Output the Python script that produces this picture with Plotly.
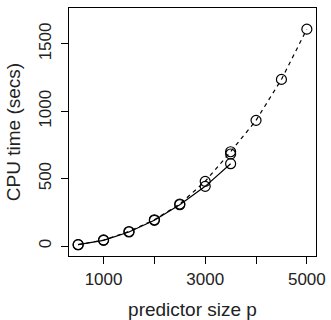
import plotly.graph_objects as go

p_solid = [500, 1000, 1500, 2000, 2500, 3000, 3500]
t_solid = [10, 42, 104, 191, 307, 443, 611]

p_dash = [500, 1000, 1500, 2000, 2500, 3000, 3500, 4000, 4500, 5000]
t_dash = [10, 45, 108, 195, 312, 480, 700, 933, 1237, 1610]

p_extra = [3500]
t_extra = [683]

x_ticks = [1000, 2000, 3000, 4000, 5000]
x_labels = ["1000", "", "3000", "", "5000"]
y_ticks = [0, 500, 1000, 1500]
y_labels = ["0", "500", "1000", "1500"]

font = "Liberation Sans, Arial, sans-serif"
marker = dict(symbol="circle-open", size=10, color="black", line=dict(width=1.2, color="black"))

fig = go.Figure()
fig.add_trace(go.Scatter(x=p_solid, y=t_solid, mode="lines+markers",
                         line=dict(color="black", width=1.2), marker=marker))
fig.add_trace(go.Scatter(x=p_dash, y=t_dash, mode="lines+markers",
                         line=dict(color="black", width=1.2, dash="4px,4px"), marker=marker))
fig.add_trace(go.Scatter(x=p_extra, y=t_extra, mode="markers", marker=marker))

axis_common = dict(showgrid=False, zeroline=False, showline=True, linecolor="black", linewidth=1.3,
                   mirror=True, ticks="outside", ticklen=7, tickwidth=1.3, tickcolor="black",
                   tickfont=dict(family=font, size=17, color="#222"), automargin=False)

fig.update_xaxes(range=[320, 5180], tickvals=x_ticks, ticktext=x_labels,
                 title=dict(text="predictor size p", font=dict(family=font, size=19, color="#222"), standoff=17),
                 **axis_common)
fig.update_yaxes(range=[-74, 1767], tickvals=y_ticks, ticktext=y_labels, tickangle=-90,
                 ticklabelstandoff=3,
                 title=dict(text="CPU time (secs)", font=dict(family=font, size=19, color="#222"), standoff=10),
                 **axis_common)

fig.update_layout(width=331, height=320, margin=dict(l=69, r=14.5, t=7.5, b=64),
                  showlegend=False, plot_bgcolor="white", paper_bgcolor="white")
fig.write_html("out.html")
